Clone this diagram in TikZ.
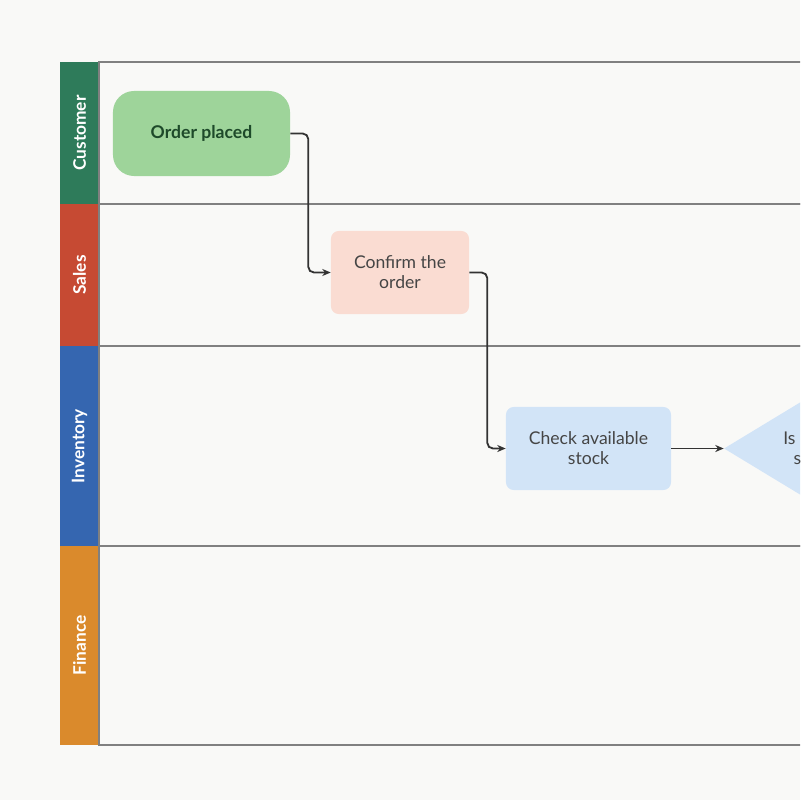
\documentclass[tikz,border=0pt]{standalone}
\usepackage{fontspec}
\setmainfont{Lato}
\usepackage{tikz}
\usetikzlibrary{shapes.geometric,arrows.meta,positioning}
\usepackage{xcolor}
\definecolor{pagebg}{RGB}{249,249,247}
\definecolor{laneline}{RGB}{128,128,128}
\definecolor{custgreen}{RGB}{46,123,90}
\definecolor{salesred}{RGB}{198,74,51}
\definecolor{invblue}{RGB}{53,102,176}
\definecolor{finorange}{RGB}{218,138,44}
\definecolor{placedgreen}{RGB}{158,212,154}
\definecolor{placedtext}{RGB}{30,74,42}
\definecolor{confirmpink}{RGB}{250,220,210}
\definecolor{stockblue}{RGB}{210,228,247}
\definecolor{boxtext}{RGB}{69,69,69}
\definecolor{flowgray}{RGB}{51,51,51}

\begin{document}
\begin{tikzpicture}[
    x=0.025cm, y=-0.025cm,
    head/.style={rotate=90, minimum height=0.975cm, inner sep=0pt, text=white, font=\fontsize{12.3}{14}\selectfont\bfseries},
    task/.style={rounded corners=5.5pt, minimum width=3.45cm, minimum height=2.075cm, align=center, text=boxtext, font=\fontsize{12.5}{14.2}\selectfont},
    event/.style={task, rounded corners=15pt, fill=placedgreen, minimum width=4.425cm, minimum height=2.125cm, text=placedtext, font=\fontsize{12.5}{14.2}\selectfont\bfseries},
    decision/.style={diamond, aspect=1.65, inner sep=0pt, minimum width=4.7cm, minimum height=2.85cm, fill=stockblue, align=center, text=boxtext, font=\fontsize{12.5}{14.2}\selectfont},
    lanebox/.style={draw=laneline, line width=0.9pt},
    flow/.style={->, draw=flowgray, line width=1.3pt, rounded corners=4pt},
    >={Stealth[length=6pt, width=5pt]}
]
% Page and crop
\path[use as bounding box, fill=pagebg] (0,0) rectangle (800,800);
\clip (0,0) rectangle (800,800);

% Lanes
\foreach \ltop/\lbot in {62/204, 204/346, 346/546, 546/745}
    \draw[lanebox] (99,\ltop) rectangle (830,\lbot);

\node[head, fill=custgreen, minimum width=3.55cm]  (hcust)  at (79.5,133)   {Customer};
\node[head, fill=salesred, minimum width=3.55cm]   (hsales) at (79.5,275)   {Sales};
\node[head, fill=invblue, minimum width=5cm]       (hinv)   at (79.5,446)   {Inventory};
\node[head, fill=finorange, minimum width=4.975cm] (hfin)   at (79.5,645.5) {Finance};
\draw[laneline, line width=0.9pt] (99,62) -- (99,745);

% Steps
\node[event] (placed) at (201.5,133.5) {Order placed};
\node[task, fill=confirmpink] (confirm) at (400,272.5) {Confirm the\\order};
\node[task, fill=stockblue, minimum width=4.125cm] (check) at (588.5,448.5) {Check available\\stock};
\node[decision] (instock) at (818,448.5) {Is item in\\stock?};

% Flow
\draw[flow] (placed.east) -- ++(18,0) |- (confirm.west);
\draw[flow] (confirm.east) -- ++(18,0) |- (check.west);
\draw[flow] (check.east) -- (instock.west);
\end{tikzpicture}
\end{document}
